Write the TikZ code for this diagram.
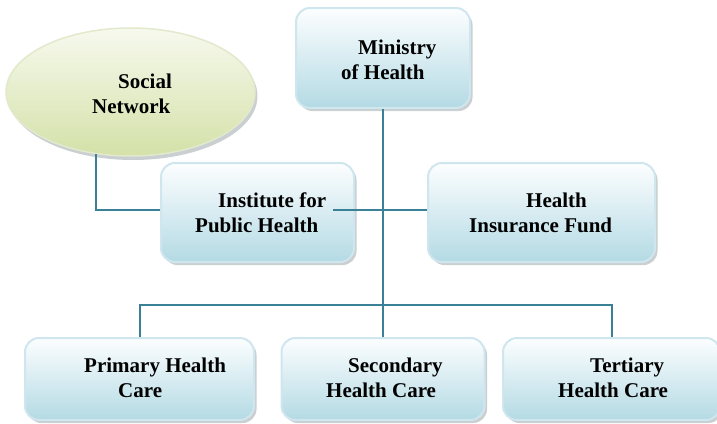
\documentclass[tikz,border=0pt]{standalone}
\usepackage{fontspec}
\setmainfont{Liberation Serif}
\usepackage{xcolor}
\usepackage{tikz}
\usetikzlibrary{shapes.geometric, shadows}

\definecolor{linkteal}{RGB}{58,128,150}
\definecolor{boxtop}{RGB}{252,254,255}
\definecolor{boxbot}{RGB}{180,218,228}
\definecolor{boxrim}{RGB}{208,230,238}
\definecolor{leaftop}{RGB}{247,249,238}
\definecolor{leafbot}{RGB}{212,225,168}
\definecolor{leafrim}{RGB}{226,233,204}
\definecolor{shadegray}{RGB}{150,160,164}

\begin{document}
\begin{tikzpicture}[x=1pt, y=-1pt,
  unit/.style={rectangle, draw=boxrim, line width=2pt, rounded corners=14pt,
    top color=boxtop, bottom color=boxbot, inner sep=0pt,
    drop shadow={shadow xshift=2.5pt, shadow yshift=-3pt, fill=shadegray}},
  bubble/.style={ellipse, draw=leafrim, line width=1.5pt,
    top color=leaftop, bottom color=leafbot, inner sep=0pt,
    drop shadow={shadow xshift=2.5pt, shadow yshift=-4pt, fill=shadegray}},
  lbl/.style={anchor=north west, align=left, inner sep=0pt,
    font=\fontsize{21}{25}\selectfont\bfseries},
  link/.style={draw=linkteal, line width=2pt}]
\useasboundingbox[fill=white] (0,0) rectangle (717,423);
% Top: ministry and the social network
\node[unit, minimum width=174pt, minimum height=100pt] (ministry) at (383,58) {};
\node[lbl] (ministrytxt) at (341,40) {\hspace*{17pt}Ministry\\of Health};
\node[bubble, minimum width=249pt, minimum height=128pt] (social) at (130.5,92) {};
\node[lbl] (socialtxt) at (92,74) {\hspace*{26pt}Social\\Network};
% Middle: institute and fund
\node[unit, minimum width=193pt, minimum height=99pt] (institute) at (257.5,212.5) {};
\node[lbl] (institutetxt) at (195,193) {\hspace*{23pt}Institute for\\Public Health};
\node[unit, minimum width=227pt, minimum height=99pt] (fund) at (541.5,212.5) {};
\node[lbl] (fundtxt) at (469,193) {\hspace*{57pt}Health\\Insurance Fund};
% Bottom: levels of care
\node[unit, minimum width=229pt, minimum height=82pt] (primary) at (139.5,379) {};
\node[lbl] (primarytxt) at (84,358) {Primary Health\\\hspace*{34pt}Care};
\node[unit, minimum width=203pt, minimum height=82pt] (secondary) at (383,379) {};
\node[lbl] (secondarytxt) at (326,358) {\hspace*{22pt}Secondary\\Health Care};
\node[unit, minimum width=217pt, minimum height=82pt] (tertiary) at (611.5,379) {};
\node[lbl] (tertiarytxt) at (558,358) {\hspace*{32pt}Tertiary\\Health Care};
% Connectors
\coordinate (bus) at (0,305);
\draw[link] (ministry.south) -- (secondary.north);
\draw[link] (institutetxt.east) ++(7,-3) coordinate (instend) -- (instend -| fund.west);
\draw[link] (social.241) -- (social.241 |- instend) -- (instend -| institute.west);
\draw[link] (primary.north) -- (primary.north |- bus) -- (tertiary.north |- bus) -- (tertiary.north);
\end{tikzpicture}
\end{document}
